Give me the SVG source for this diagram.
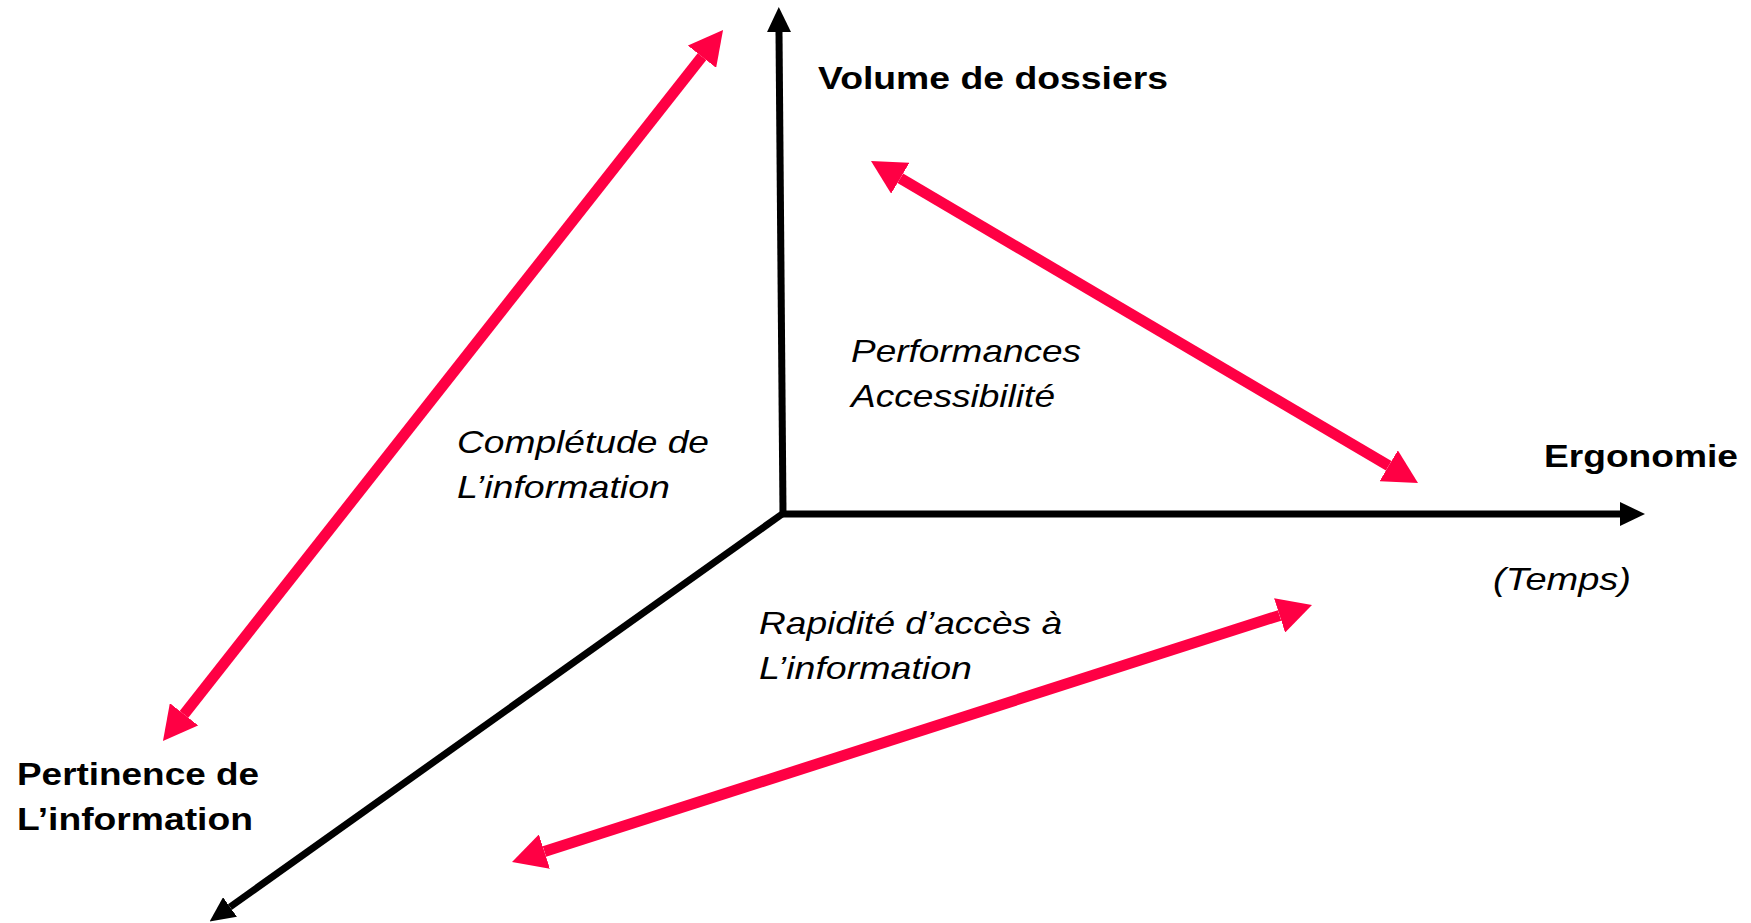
<svg xmlns="http://www.w3.org/2000/svg" width="1751" height="923" viewBox="0 0 1751 923">
<style>
.ax{stroke:#000;stroke-width:7;fill:none}
.rd{stroke:#FF0044;stroke-width:11;fill:none}
.b{font-family:"Liberation Sans",Arial,sans-serif;font-weight:bold;font-size:32px;fill:#000}
.i{font-family:"Liberation Sans",Arial,sans-serif;font-style:italic;font-size:32px;fill:#000}
</style>
<defs>
<marker id="ka" markerUnits="userSpaceOnUse" viewBox="0 0 25 24" refX="0" refY="12" markerWidth="25" markerHeight="24" orient="auto"><path d="M0,0 L25,12 L0,24 z" fill="#000"/></marker>
<marker id="ra" markerUnits="userSpaceOnUse" viewBox="0 0 34 36" refX="0" refY="18" markerWidth="34" markerHeight="36" orient="auto-start-reverse"><path d="M0,0 L34,18 L0,36 z" fill="#FF0044"/></marker>
</defs>
<rect width="1751" height="923" fill="#fff"/>
<g id="connectors">
<line class="ax" x1="783" y1="514" x2="779" y2="32" marker-end="url(#ka)"/>
<line class="ax" x1="780" y1="514" x2="1620" y2="514" marker-end="url(#ka)"/>
<line class="ax" x1="785" y1="512" x2="230" y2="907" marker-end="url(#ka)"/>
<line class="rd" x1="184" y1="714.3" x2="702" y2="56.7" marker-start="url(#ra)" marker-end="url(#ra)"/>
<line class="rd" x1="900.3" y1="178.2" x2="1388.7" y2="465.8" marker-start="url(#ra)" marker-end="url(#ra)"/>
<line class="rd" x1="544.4" y1="851.6" x2="1279.6" y2="615.4" marker-start="url(#ra)" marker-end="url(#ra)"/>
</g>
<g id="volume"><text class="b" x="818" y="89" textLength="350" lengthAdjust="spacingAndGlyphs">Volume de dossiers</text></g>
<g id="ergonomie"><text class="b" x="1544" y="467" textLength="194" lengthAdjust="spacingAndGlyphs">Ergonomie</text></g>
<g id="temps"><text class="i" x="1493" y="590" textLength="138" lengthAdjust="spacingAndGlyphs">(Temps)</text></g>
<g id="pertinence"><text class="b" x="17" y="785" textLength="242" lengthAdjust="spacingAndGlyphs">Pertinence de</text><text class="b" x="17" y="830" textLength="236" lengthAdjust="spacingAndGlyphs">L’information</text></g>
<g id="performances"><text class="i" x="851" y="362" textLength="230" lengthAdjust="spacingAndGlyphs">Performances</text><text class="i" x="851" y="407" textLength="204" lengthAdjust="spacingAndGlyphs">Accessibilité</text></g>
<g id="completude"><text class="i" x="457" y="453" textLength="252" lengthAdjust="spacingAndGlyphs">Complétude de</text><text class="i" x="457" y="498" textLength="213" lengthAdjust="spacingAndGlyphs">L’information</text></g>
<g id="rapidite"><text class="i" x="759" y="634" textLength="303" lengthAdjust="spacingAndGlyphs">Rapidité d’accès à</text><text class="i" x="759" y="679" textLength="213" lengthAdjust="spacingAndGlyphs">L’information</text></g>
</svg>
